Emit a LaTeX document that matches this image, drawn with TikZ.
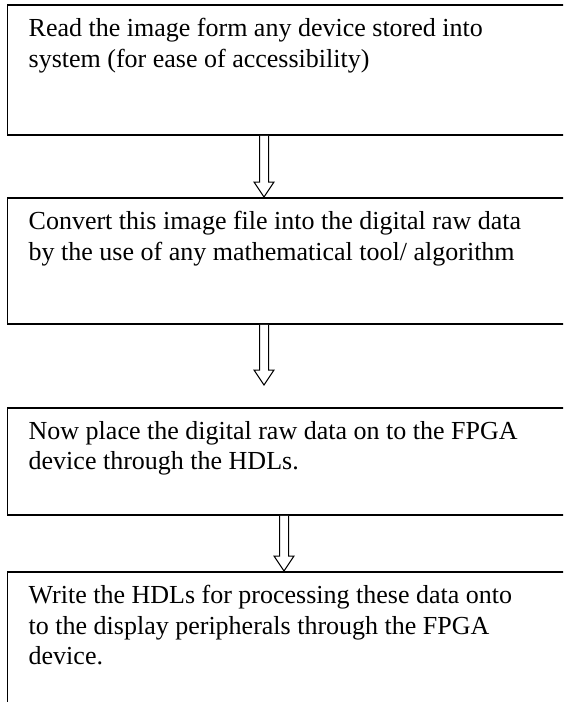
\documentclass[tikz,border=0pt]{standalone}
\usepackage{fontspec}
\setmainfont{Liberation Serif}
\usetikzlibrary{calc}
\tikzset{
  box/.style={draw=black, line width=1.8pt, fill=none, minimum width=620pt, inner sep=0pt, anchor=north west},
  boxtext/.style={anchor=north west, align=left, inner sep=0pt, font=\fontsize{26pt}{30.5pt}\selectfont},
  arrowline/.style={draw=black, line width=1pt, fill=white, line join=miter}
}
\newcommand\flowarrow[3]{%
  \draw[arrowline] let \p1=(#1.south -| #3,0), \p2=(#2.north -| #3,0) in
  (\x1-4.5,\y1) -- (\x1-4.5,\y2+15) -- (\x1-10,\y2+15) -- (\x2,\y2) --
  (\x1+10,\y2+15) -- (\x1+4.5,\y2+15) -- (\x1+4.5,\y1);}
\begin{document}
\begin{tikzpicture}[x=1pt,y=1pt]
\useasboundingbox (0,0) rectangle (563,-702);
\clip (0,0) rectangle (563,-702);
\node[box, minimum height=130pt] (b1) at (6.5,-4) {};
\node[box, minimum height=126pt] (b2) at (6.5,-197) {};
\node[box, minimum height=107pt] (b3) at (6.5,-407) {};
\node[box, minimum height=160pt] (b4) at (6.5,-571) {};
\node[boxtext] (t1) at ($(b1.north west)+(22,-14)$) {Read the image form any device stored into\\system (for ease of accessibility)};
\node[boxtext] (t2) at ($(b2.north west)+(22,-14)$) {Convert this image file into the digital raw data\\by the use of any mathematical tool/ algorithm};
\node[boxtext] (t3) at ($(b3.north west)+(22,-14)$) {Now place the digital raw data on to the FPGA\\device through the HDLs.};
\node[boxtext] (t4) at ($(b4.north west)+(22,-14)$) {Write the HDLs for processing these data onto\\to the display peripherals through the FPGA\\device.};
\flowarrow{b1}{b2}{264}
\coordinate (tip2) at (264,-385);
\draw[arrowline] let \p1=(b2.south -| 264,0), \p2=(tip2) in
  (\x1-4.5,\y1) -- (\x1-4.5,\y2+15) -- (\x1-10,\y2+15) -- (\x2,\y2) --
  (\x1+10,\y2+15) -- (\x1+4.5,\y2+15) -- (\x1+4.5,\y1);
\flowarrow{b3}{b4}{284}
\end{tikzpicture}
\end{document}
